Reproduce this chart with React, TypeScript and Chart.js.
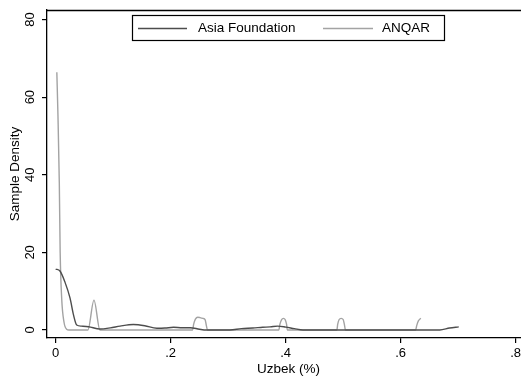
import React, { useEffect, useRef } from "react";
import { Chart, registerables } from "chart.js";

Chart.register(...registerables);

const seriesNames = ["Asia Foundation", "ANQAR"];
const seriesColors = ["#4d4d4d", "#a3a3a3"];

const asiaX = [0, 0.0075, 0.016, 0.025, 0.031, 0.0365, 0.045, 0.057, 0.077, 0.095, 0.112, 0.135, 0.155, 0.176, 0.19, 0.205, 0.22, 0.234, 0.25, 0.262, 0.28, 0.303, 0.323, 0.343, 0.36, 0.373, 0.386, 0.4, 0.415, 0.43, 0.5, 0.6, 0.668, 0.685, 0.701];
const asiaY = [15.7, 15.2, 12.4, 8.2, 3.9, 1.3, 1.0, 0.85, 0.26, 0.55, 1.0, 1.4, 1.1, 0.45, 0.5, 0.7, 0.6, 0.6, 0.2, 0, 0, 0, 0.35, 0.5, 0.7, 0.8, 1.0, 0.75, 0.35, 0, 0, 0, 0, 0.5, 0.8];

const anqarX = [0.002, 0.004, 0.0063, 0.0078, 0.0105, 0.0145, 0.019, 0.023, 0.056, 0.0666, 0.077, 0.238, 0.240, 0.243, 0.247, 0.251, 0.256, 0.260, 0.262, 0.264, 0.388, 0.390, 0.393, 0.396, 0.399, 0.4015, 0.403, 0.489, 0.4905, 0.493, 0.4965, 0.5, 0.502, 0.504, 0.626, 0.628, 0.631, 0.635];
const anqarY = [66.4, 55, 38, 20, 8, 2, 0.2, 0, 0, 7.7, 0, 0, 1.5, 2.8, 3.3, 3.2, 3.0, 2.6, 1.2, 0, 0, 1.5, 2.7, 3.0, 2.7, 1.5, 0, 0, 1.5, 2.7, 3.0, 2.7, 1.5, 0, 0, 1.2, 2.4, 3.0];

const xTicks = [0, 0.2, 0.4, 0.6, 0.8];
const xTickLabels = ["0", ".2", ".4", ".6", ".8"];
const yTicks = [0, 20, 40, 60, 80];
const yTickLabels = ["0", "20", "40", "60", "80"];
const xTitle = "Uzbek (%)";
const yTitle = "Sample Density";

const FONT = '"Liberation Sans", Arial, Helvetica, sans-serif';

const decorPlugin = {
  id: "decor",
  afterDraw(chart: any) {
    const ctx = chart.ctx;
    const ca = chart.chartArea;
    const xs = chart.scales.x;
    const ys = chart.scales.y;
    ctx.save();
    // top frame line
    ctx.strokeStyle = "#000";
    ctx.lineWidth = 1.3;
    ctx.beginPath();
    ctx.moveTo(ca.left, Math.round(ca.top) + 0.5);
    ctx.lineTo(chart.width, Math.round(ca.top) + 0.5);
    ctx.stroke();

    ctx.fillStyle = "#000";
    // x tick labels
    ctx.font = `13px ${FONT}`;
    ctx.textAlign = "center";
    ctx.textBaseline = "middle";
    xTicks.forEach((v, i) => {
      ctx.fillText(xTickLabels[i], xs.getPixelForValue(v), 353.5);
    });
    // y tick labels rotated
    yTicks.forEach((v, i) => {
      ctx.save();
      ctx.translate(30.5, ys.getPixelForValue(v));
      ctx.rotate(-Math.PI / 2);
      ctx.fillText(yTickLabels[i], 0, 0);
      ctx.restore();
    });
    // titles
    ctx.font = `13.5px ${FONT}`;
    ctx.fillText(xTitle, (ca.left + chart.width) / 2, 369.5);
    ctx.save();
    ctx.translate(15.5, (ca.top + ca.bottom) / 2);
    ctx.rotate(-Math.PI / 2);
    ctx.fillText(yTitle, 0, 0);
    ctx.restore();

    // legend
    const lx = 132.5, ly = 15.5, lw = 312, lh = 25;
    ctx.fillStyle = "#fff";
    ctx.fillRect(lx, ly, lw, lh);
    ctx.strokeStyle = "#000";
    ctx.lineWidth = 1.2;
    ctx.strokeRect(lx, ly, lw, lh);
    const cy = ly + lh / 2 + 0.5;
    const items = [
      { x0: 138, x1: 187, tx: 198 },
      { x0: 323, x1: 373, tx: 382 },
    ];
    items.forEach((it, i) => {
      ctx.strokeStyle = seriesColors[i];
      ctx.lineWidth = 1.4;
      ctx.beginPath();
      ctx.moveTo(it.x0, cy);
      ctx.lineTo(it.x1, cy);
      ctx.stroke();
      ctx.fillStyle = "#000";
      ctx.textAlign = "left";
      ctx.fillText(seriesNames[i], it.tx, cy);
    });
    ctx.restore();
  },
};

export default function App() {
  const ref = useRef<HTMLCanvasElement | null>(null);
  useEffect(() => {
    if (!ref.current) return;
    const mk = (xs: number[], ys: number[]) => xs.map((x, i) => ({ x, y: ys[i] }));
    const chart = new Chart(ref.current, {
      type: "scatter",
      data: {
        datasets: [
          {
            label: seriesNames[0],
            data: mk(asiaX, asiaY),
            showLine: true,
            borderColor: seriesColors[0],
            borderWidth: 1.4,
            pointRadius: 0,
            cubicInterpolationMode: "monotone",
          },
          {
            label: seriesNames[1],
            data: mk(anqarX, anqarY),
            showLine: true,
            borderColor: seriesColors[1],
            borderWidth: 1.4,
            pointRadius: 0,
            cubicInterpolationMode: "monotone",
          },
        ],
      },
      options: {
        responsive: false,
        animation: false,
        layout: { padding: { top: 10, right: 3, left: 0, bottom: 0 } },
        plugins: { legend: { display: false }, tooltip: { enabled: false } },
        scales: {
          x: {
            type: "linear",
            min: -0.0151,
            max: 0.8197,
            afterBuildTicks: (s: any) => {
              s.ticks = xTicks.map((v) => ({ value: v }));
            },
            afterFit: (s: any) => {
              s.height = 41;
            },
            ticks: { display: false },
            grid: { drawOnChartArea: false, drawTicks: true, tickLength: 5, color: "#000", tickColor: "#000", lineWidth: 1.2 },
            border: { display: true, color: "#000", width: 1.3 },
          },
          y: {
            type: "linear",
            min: -2.06,
            max: 82.45,
            afterBuildTicks: (s: any) => {
              s.ticks = yTicks.map((v) => ({ value: v }));
            },
            afterFit: (s: any) => {
              s.width = 47;
            },
            ticks: { display: false },
            grid: { drawOnChartArea: false, drawTicks: true, tickLength: 5, color: "#000", tickColor: "#000", lineWidth: 1.2 },
            border: { display: true, color: "#000", width: 1.3 },
          },
        },
      },
      plugins: [decorPlugin],
    });
    return () => chart.destroy();
  }, []);
  return (
    <div style={{ position: "fixed", left: 0, top: 0, width: 521, height: 379, overflow: "hidden", background: "#fff" }}>
      <canvas ref={ref} width={530} height={379} style={{ display: "block" }} />
    </div>
  );
}
